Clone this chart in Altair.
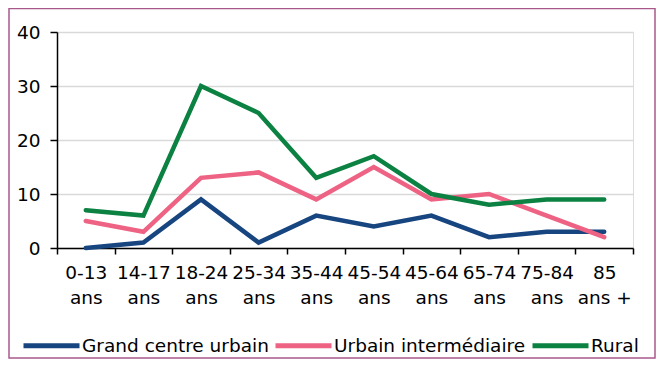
import altair as alt
import pandas as pd

ages = ["0-13 ans", "14-17 ans", "18-24 ans", "25-34 ans", "35-44 ans",
        "45-54 ans", "45-64 ans", "65-74 ans", "75-84 ans", "85 ans +"]
grand_centre = [0, 1, 9, 1, 6, 4, 6, 2, 3, 3]
urbain_inter = [5, 3, 13, 14, 9, 15, 9, 10, 6, 2]
rural = [7, 6, 30, 25, 13, 17, 10, 8, 9, 9]
series = ["Grand centre urbain", "Urbain intermédiaire", "Rural"]
colors = ["#17457f", "#ee6283", "#0b8142"]
y_ticks = [0, 10, 20, 30, 40]

rows = []
for s_idx, (name, vals) in enumerate(zip(series, [grand_centre, urbain_inter, rural])):
    for a, v in zip(ages, vals):
        rows.append({"age": a, "valeur": v, "serie": name, "ordre": s_idx})
df = pd.DataFrame(rows)

FONT = "DejaVu Sans"
FS = 18.5

lines = alt.Chart(df).mark_line(strokeWidth=4.5, strokeCap="round").encode(
    x=alt.X("age:N", sort=ages, title=None,
            scale=alt.Scale(type="band", paddingInner=0, paddingOuter=0),
            axis=alt.Axis(tickBand="extent", labelAngle=0, tickSize=6,
                          tickColor="black", tickWidth=1.5,
                          domainColor="black", domainWidth=1.5,
                          labelPadding=9, labelLineHeight=25,
                          labelFont=FONT, labelFontSize=FS, labelColor="black",
                          labelExpr="[substring(datum.label, 0, indexof(datum.label, ' ')), substring(datum.label, indexof(datum.label, ' ') + 1)]",
                          grid=False)),
    y=alt.Y("valeur:Q", title=None,
            scale=alt.Scale(domain=[0, 40], nice=False),
            axis=alt.Axis(values=y_ticks, tickSize=7, tickColor="black", tickWidth=1.5,
                          domainColor="black", domainWidth=1.5,
                          labelPadding=10, labelFont=FONT, labelFontSize=FS,
                          labelColor="black",
                          gridColor="#d9d9d9", gridWidth=1.5)),
    color=alt.Color("serie:N", sort=series,
                    scale=alt.Scale(domain=series, range=colors),
                    legend=alt.Legend(title=None, orient="none", direction="horizontal",
                                      legendX=-36, legendY=283, padding=0,
                                      symbolType="stroke", symbolSize=3136,
                                      symbolStrokeWidth=5, labelOffset=0,
                                      columnPadding=-4, labelLimit=0,
                                      labelFont=FONT, labelFontSize=FS,
                                      labelColor="black")),
    order=alt.Order("ordre:Q"),
    detail="serie:N",
)

border = alt.Chart(pd.DataFrame({"b": [0]})).mark_rect(
    fill=None, stroke="#a9588a", strokeWidth=1.5
).encode(
    x=alt.value(-48), x2=alt.value(598),
    y=alt.value(-23.5), y2=alt.value(326),
)

chart = alt.layer(lines, border).properties(
    width=576, height=216,
    autosize=alt.AutoSizeParams(type="none"),
    padding={"left": 49, "top": 24, "right": 23, "bottom": 111},
).configure_view(stroke=None).configure(background="white")

chart.save("out.html", embed_options={"renderer": "svg", "actions": False})
